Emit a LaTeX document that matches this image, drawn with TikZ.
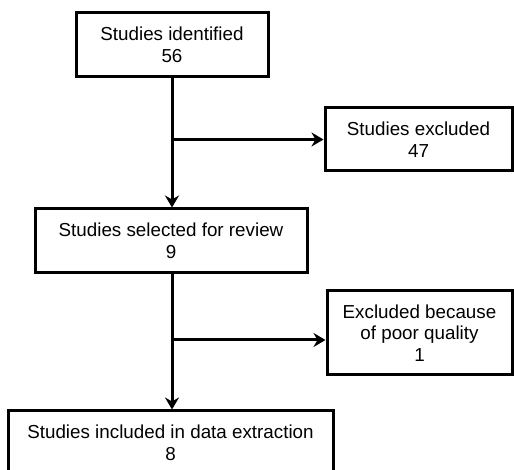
\documentclass[tikz,border=0pt]{standalone}
\usepackage{fontspec}
\setmainfont{Liberation Sans}
\usetikzlibrary{arrows.meta,positioning}

\tikzset{
  stage/.style={draw, line width=3pt, align=center, inner sep=0pt,
    font=\fontsize{18.8}{21.5}\selectfont},
  flow/.style={line width=3pt, -{Stealth[length=12pt,width=14pt,inset=4pt]}}
}

\begin{document}
\begin{tikzpicture}[x=1pt,y=1pt]
    \useasboundingbox (0,0) rectangle (514,470);
    \clip (0,0) rectangle (514,470);

    % draw boxes
    \node[stage, minimum width=192pt, minimum height=64pt] (identified) at (172,425) {Studies identified\\56};
    \node[stage, minimum width=187pt, minimum height=63pt] (excluded) at (418.5,330.5) {Studies excluded\\47};
    \node[stage, minimum width=272pt, minimum height=64pt] (selected) at (171,229) {Studies selected for review\\9};
    \node[stage, minimum width=185pt, minimum height=84pt] (poor) at (419.5,137) {Excluded because\\of poor quality\\1};
    \node[stage, minimum width=325pt, minimum height=64pt] (included) at (170.5,27) {Studies included in data extraction\\8};

    % draw vertical arrows
    \draw[flow] (identified.south) -- (identified.south |- selected.north);
    \draw[flow] (identified.south |- selected.south) -- (identified.south |- included.north);

    % draw side arrows
    \coordinate (split1) at (identified.south |- excluded.west);
    \coordinate (split2) at (172,130);
    \draw[flow] (split1) -- (excluded.west);
    \draw[flow] (split2) -- (split2 -| poor.west);
\end{tikzpicture}
\end{document}
